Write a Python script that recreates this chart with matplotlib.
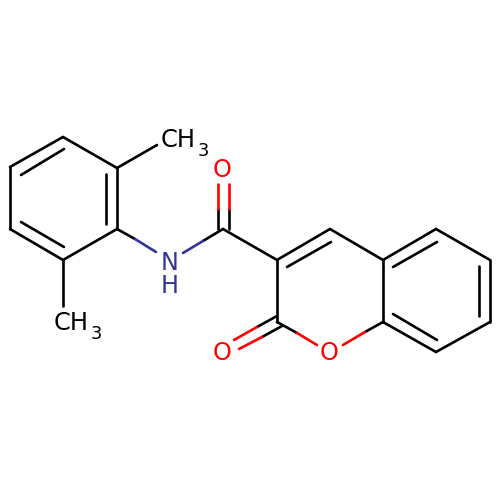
import matplotlib
matplotlib.use("Agg")
import matplotlib.pyplot as plt

BLACK = "#000000"
RED = "#ff0000"
BLUE = "#33339a"

# Atom positions (pixel coordinates)
atoms = {
    "c1": (63, 137), "c2": (117, 168), "c3": (117, 229), "c4": (63, 260),
    "c5": (10, 229), "c6": (10, 167),
    "me1": (157, 145), "me2": (63, 306),
    "am": (223, 229),
    "p3": (277, 260), "p4": (330, 229), "p4a": (383, 260), "p8a": (383, 322),
    "b5": (436, 229), "b6": (490, 260), "b7": (490, 322), "b8": (436, 352),
    "p2": (277, 322),
}

# Plain black bonds
black_bonds = [
    ("c1", "c2"), ("c2", "c3"), ("c3", "c4"), ("c4", "c5"), ("c5", "c6"), ("c6", "c1"),
    ("c2", "me1"), ("c4", "me2"), ("am", "p3"), ("p3", "p4"), ("p4", "p4a"),
    ("p4a", "p8a"), ("p4a", "b5"), ("b5", "b6"), ("b6", "b7"), ("b7", "b8"),
    ("b8", "p8a"), ("p3", "p2"),
]

# Inner lines of double bonds
inner_lines = [
    [(21, 175), (64, 149)], [(106, 174), (106, 224)], [(21, 222), (64, 247)],
    [(287, 267), (331, 242)], [(393, 267), (437, 242)], [(479, 266), (479, 316)],
    [(437, 340), (393, 314)],
]

# Two-colour bonds: start, colour change, end, far-end colour
hetero_bonds = [
    [(117, 229), (135, 239), (156, 252), BLUE],
    [(223, 229), (203, 241), (183, 253), BLUE],
    [(218, 229), (218, 209), (218, 184), RED],
    [(229, 229), (229, 209), (229, 184), RED],
    [(383, 322), (365, 332), (343, 345), RED],
    [(277, 322), (297, 333), (317, 345), RED],
    [(277, 316), (257, 327), (234, 340), RED],
    [(282, 326), (262, 337), (239, 349), RED],
]

# Atom labels: text, x, baseline y, colour, size, alignment
labels = [
    ("CH", 161, 147, BLACK, 17.4, "left"), ("3", 197.5, 156, BLACK, 12.8, "left"),
    ("CH", 54, 330, BLACK, 17.4, "left"), ("3", 90.5, 339, BLACK, 12.8, "left"),
    ("N", 170, 270, BLUE, 17.2, "center"), ("H", 170, 293, BLUE, 17.2, "center"),
    ("O", 222.5, 177, RED, 17.2, "center"),
    ("O", 222, 360.5, RED, 17.2, "center"),
    ("O", 329, 360.5, RED, 17.2, "center"),
]

fig = plt.figure(figsize=(5, 5), dpi=100, facecolor="white")
ax = fig.add_axes([0, 0, 1, 1])
ax.set_xlim(0, 500)
ax.set_ylim(500, 0)
ax.axis("off")

lw = 1.9
style = dict(lw=lw, solid_capstyle="round", solid_joinstyle="round")

for a, b in black_bonds:
    (x0, y0), (x1, y1) = atoms[a], atoms[b]
    ax.plot([x0, x1], [y0, y1], color=BLACK, **style)

for (x0, y0), (x1, y1) in inner_lines:
    ax.plot([x0, x1], [y0, y1], color=BLACK, **style)

for s, m, e, col in hetero_bonds:
    ax.plot([s[0], m[0]], [s[1], m[1]], color=BLACK, **style)
    ax.plot([m[0], e[0]], [m[1], e[1]], color=col, **style)

for t, x, y, col, size, ha in labels:
    ax.text(x, y, t, color=col, fontsize=size, ha=ha, va="baseline",
            family="DejaVu Sans")

fig.savefig("out.png", dpi=100, facecolor="white")
